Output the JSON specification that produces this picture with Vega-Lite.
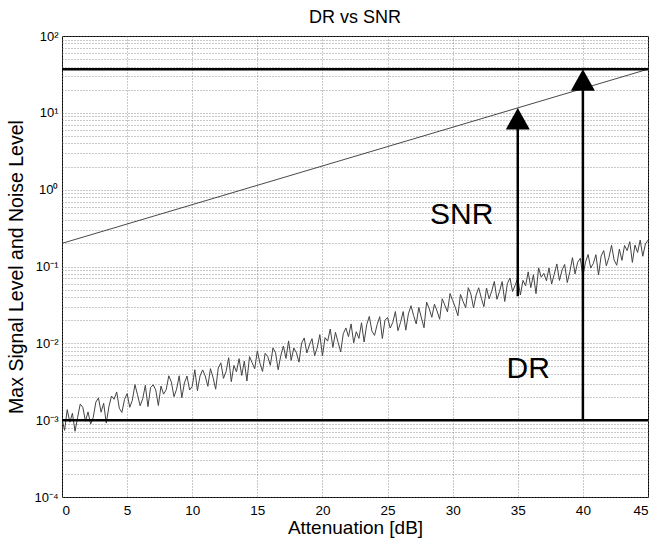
{
  "$schema": "https://vega.github.io/schema/vega-lite/v6.json",
  "width": 586,
  "height": 461,
  "autosize": "none",
  "padding": {"left": 62, "top": 36, "right": 6, "bottom": 42},
  "background": "white",
  "title": {"text": "DR vs SNR", "font": "Liberation Sans", "fontSize": 18, "fontWeight": "normal", "color": "black", "offset": 3, "anchor": "middle"},
  "config": {
    "view": {"stroke": "black", "strokeWidth": 1},
    "axis": {"labelFont": "Liberation Sans", "titleFont": "Liberation Sans", "labelColor": "black", "titleColor": "black", "titleFontWeight": "normal", "domain": false, "ticks": false, "gridColor": "#777", "gridDash": [1, 2], "gridWidth": 0.8, "gridOpacity": 1}
  },
  "datasets": {
    "noise": [
      {"x":0,"y":0.00105},{"x":0.2,"y":0.000737},{"x":0.4,"y":0.00137},{"x":0.6,"y":0.000943},{"x":0.8,"y":0.00123},
      {"x":1,"y":0.000717},{"x":1.2,"y":0.00109},{"x":1.4,"y":0.00162},{"x":1.6,"y":0.00147},{"x":1.8,"y":0.00097},
      {"x":2,"y":0.00128},{"x":2.2,"y":0.000889},{"x":2.4,"y":0.00109},{"x":2.6,"y":0.00172},{"x":2.8,"y":0.00195},
      {"x":3,"y":0.00127},{"x":3.2,"y":0.00166},{"x":3.4,"y":0.000917},{"x":3.6,"y":0.00149},{"x":3.8,"y":0.00206},
      {"x":4,"y":0.00187},{"x":4.2,"y":0.00233},{"x":4.4,"y":0.00143},{"x":4.6,"y":0.00126},{"x":4.8,"y":0.00186},
      {"x":5,"y":0.00222},{"x":5.2,"y":0.00147},{"x":5.4,"y":0.00181},{"x":5.6,"y":0.0029},{"x":5.8,"y":0.00214},
      {"x":6,"y":0.00154},{"x":6.2,"y":0.0019},{"x":6.4,"y":0.00284},{"x":6.6,"y":0.0015},{"x":6.8,"y":0.00265},
      {"x":7,"y":0.00289},{"x":7.2,"y":0.00247},{"x":7.4,"y":0.00155},{"x":7.6,"y":0.00278},{"x":7.8,"y":0.00218},
      {"x":8,"y":0.00249},{"x":8.2,"y":0.00378},{"x":8.4,"y":0.00313},{"x":8.6,"y":0.00202},{"x":8.8,"y":0.00253},
      {"x":9,"y":0.00378},{"x":9.2,"y":0.00196},{"x":9.4,"y":0.00304},{"x":9.6,"y":0.00375},{"x":9.8,"y":0.00247},
      {"x":10,"y":0.00275},{"x":10.2,"y":0.00453},{"x":10.4,"y":0.00242},{"x":10.6,"y":0.00376},{"x":10.8,"y":0.00451},
      {"x":11,"y":0.00376},{"x":11.2,"y":0.00276},{"x":11.4,"y":0.00468},{"x":11.6,"y":0.00358},{"x":11.8,"y":0.00253},
      {"x":12,"y":0.00478},{"x":12.2,"y":0.00558},{"x":12.4,"y":0.0035},{"x":12.6,"y":0.00431},{"x":12.8,"y":0.0065},
      {"x":13,"y":0.00317},{"x":13.2,"y":0.00516},{"x":13.4,"y":0.00426},{"x":13.6,"y":0.00632},{"x":13.8,"y":0.00382},
      {"x":14,"y":0.00586},{"x":14.2,"y":0.00323},{"x":14.4,"y":0.00672},{"x":14.6,"y":0.00559},{"x":14.8,"y":0.00467},
      {"x":15,"y":0.00799},{"x":15.2,"y":0.00552},{"x":15.4,"y":0.0043},{"x":15.6,"y":0.00741},{"x":15.8,"y":0.00672},
      {"x":16,"y":0.00517},{"x":16.2,"y":0.00871},{"x":16.4,"y":0.00753},{"x":16.6,"y":0.00453},{"x":16.8,"y":0.00692},
      {"x":17,"y":0.0092},{"x":17.2,"y":0.00637},{"x":17.4,"y":0.01075},{"x":17.6,"y":0.006},{"x":17.8,"y":0.00869},
      {"x":18,"y":0.00755},{"x":18.2,"y":0.00569},{"x":18.4,"y":0.01006},{"x":18.6,"y":0.01175},{"x":18.8,"y":0.00749},
      {"x":19,"y":0.00954},{"x":19.2,"y":0.01149},{"x":19.4,"y":0.00691},{"x":19.6,"y":0.00879},{"x":19.8,"y":0.01299},
      {"x":20,"y":0.0069},{"x":20.2,"y":0.01187},{"x":20.4,"y":0.01068},{"x":20.6,"y":0.01533},{"x":20.8,"y":0.00888},
      {"x":21,"y":0.01391},{"x":21.2,"y":0.01033},{"x":21.4,"y":0.00775},{"x":21.6,"y":0.01335},{"x":21.8,"y":0.01586},
      {"x":22,"y":0.01221},{"x":22.2,"y":0.0179},{"x":22.4,"y":0.01015},{"x":22.6,"y":0.01417},{"x":22.8,"y":0.01159},
      {"x":23,"y":0.0185},{"x":23.2,"y":0.0104},{"x":23.4,"y":0.0176},{"x":23.6,"y":0.02241},{"x":23.8,"y":0.0144},
      {"x":24,"y":0.01268},{"x":24.2,"y":0.01751},{"x":24.4,"y":0.02224},{"x":24.6,"y":0.01155},{"x":24.8,"y":0.01998},
      {"x":25,"y":0.0217},{"x":25.2,"y":0.01583},{"x":25.4,"y":0.01862},{"x":25.6,"y":0.02593},{"x":25.8,"y":0.01462},
      {"x":26,"y":0.01876},{"x":26.2,"y":0.02592},{"x":26.4,"y":0.01483},{"x":26.6,"y":0.02417},{"x":26.8,"y":0.03083},
      {"x":27,"y":0.02306},{"x":27.2,"y":0.01786},{"x":27.4,"y":0.0293},{"x":27.6,"y":0.02136},{"x":27.8,"y":0.01595},
      {"x":28,"y":0.03441},{"x":28.2,"y":0.02827},{"x":28.4,"y":0.02183},{"x":28.6,"y":0.03231},{"x":28.8,"y":0.02643},
      {"x":29,"y":0.02057},{"x":29.2,"y":0.03806},{"x":29.4,"y":0.03128},{"x":29.6,"y":0.02568},{"x":29.8,"y":0.04448},
      {"x":30,"y":0.03605},{"x":30.2,"y":0.02944},{"x":30.4,"y":0.02285},{"x":30.6,"y":0.04339},{"x":30.8,"y":0.03501},
      {"x":31,"y":0.02909},{"x":31.2,"y":0.05299},{"x":31.4,"y":0.04384},{"x":31.6,"y":0.02891},{"x":31.8,"y":0.04239},
      {"x":32,"y":0.05295},{"x":32.2,"y":0.03869},{"x":32.4,"y":0.03001},{"x":32.6,"y":0.05249},{"x":32.8,"y":0.03796},
      {"x":33,"y":0.0478},{"x":33.2,"y":0.06397},{"x":33.4,"y":0.03741},{"x":33.6,"y":0.04741},{"x":33.8,"y":0.06364},
      {"x":34,"y":0.03508},{"x":34.2,"y":0.05999},{"x":34.4,"y":0.07084},{"x":34.6,"y":0.04728},{"x":34.8,"y":0.05713},
      {"x":35,"y":0.07086},{"x":35.2,"y":0.04257},{"x":35.4,"y":0.06594},{"x":35.6,"y":0.05606},{"x":35.8,"y":0.08505},
      {"x":36,"y":0.053},{"x":36.2,"y":0.0781},{"x":36.4,"y":0.04426},{"x":36.6,"y":0.09605},{"x":36.8,"y":0.07261},
      {"x":37,"y":0.08141},{"x":37.2,"y":0.06518},{"x":37.4,"y":0.09562},{"x":37.6,"y":0.0592},{"x":37.8,"y":0.07914},
      {"x":38,"y":0.108},{"x":38.2,"y":0.06582},{"x":38.4,"y":0.08982},{"x":38.6,"y":0.1064},{"x":38.8,"y":0.06181},
      {"x":39,"y":0.08556},{"x":39.2,"y":0.1304},{"x":39.4,"y":0.08025},{"x":39.6,"y":0.1137},{"x":39.8,"y":0.128},
      {"x":40,"y":0.075},{"x":40.2,"y":0.1136},{"x":40.4,"y":0.1434},{"x":40.6,"y":0.0954},{"x":40.8,"y":0.1096},
      {"x":41,"y":0.1425},{"x":41.2,"y":0.07805},{"x":41.4,"y":0.1363},{"x":41.6,"y":0.1612},{"x":41.8,"y":0.1021},
      {"x":42,"y":0.1309},{"x":42.2,"y":0.1893},{"x":42.4,"y":0.1213},{"x":42.6,"y":0.1039},{"x":42.8,"y":0.1683},
      {"x":43,"y":0.1201},{"x":43.2,"y":0.1879},{"x":43.4,"y":0.1612},{"x":43.6,"y":0.2105},{"x":43.8,"y":0.113},
      {"x":44,"y":0.1902},{"x":44.2,"y":0.1524},{"x":44.4,"y":0.2207},{"x":44.6,"y":0.1359},{"x":44.8,"y":0.1963},
      {"x":45,"y":0.2205}
    ],
    "signal": [{"x": 0, "y": 0.2}, {"x": 45, "y": 37}],
    "levels": [{"level": "max", "y": 37}, {"level": "noise floor", "y": 0.001}],
    "arrows": [
      {"name": "SNR", "x": 35, "from": 0.041, "to": 8, "tip": 11.6},
      {"name": "DR", "x": 40, "from": 0.001, "to": 26, "tip": 37}
    ],
    "labels": [
      {"text": "SNR", "x": 30.7, "y": 0.47},
      {"text": "DR", "x": 35.8, "y": 0.0046}
    ]
  },
  "layer": [
    {
      "data": {"name": "noise"},
      "mark": {"type": "line", "stroke": "#444", "strokeWidth": 1, "clip": true},
      "encoding": {
        "x": {"field": "x", "type": "quantitative", "scale": {"domain": [0, 45], "nice": false},
          "axis": {"values": [0,5,10,15,20,25,30,35,40,45], "title": "Attenuation [dB]", "titleFontSize": 19, "labelFontSize": 13.5, "labelPadding": 6, "titlePadding": 2, "grid": true}},
        "y": {"field": "y", "type": "quantitative", "scale": {"type": "log", "domain": [0.0001, 100], "nice": false},
          "axis": {"values": [0.0001,0.0002,0.0003,0.0004,0.0005,0.0006,0.0007,0.0008,0.0009,0.001,0.002,0.003,0.004,0.005,0.006,0.007,0.008,0.009,0.01,0.02,0.03,0.04,0.05,0.06,0.07,0.08,0.09,0.1,0.2,0.3,0.4,0.5,0.6,0.7,0.8,0.9,1,2,3,4,5,6,7,8,9,10,20,30,40,50,60,70,80,90,100],
            "labelExpr": "abs(log(datum.value)/LN10 - round(log(datum.value)/LN10)) < 0.001 ? '10' + ['⁻⁴','⁻³','⁻²','⁻¹','⁰','¹','²'][round(log(datum.value)/LN10) + 4] : ''",
            "title": "Max Signal Level and Noise Level", "titleFontSize": 19.5, "labelFontSize": 13, "labelPadding": 4, "titlePadding": 7, "grid": true, "labelOverlap": false}}
      }
    },
    {
      "data": {"name": "signal"},
      "mark": {"type": "line", "stroke": "#333", "strokeWidth": 0.9},
      "encoding": {"x": {"field": "x", "type": "quantitative"}, "y": {"field": "y", "type": "quantitative"}}
    },
    {
      "data": {"name": "levels"},
      "mark": {"type": "rule", "stroke": "black", "strokeWidth": 2.5},
      "encoding": {"y": {"field": "y", "type": "quantitative"}}
    },
    {
      "data": {"name": "arrows"},
      "mark": {"type": "rule", "stroke": "black", "strokeWidth": 2.5},
      "encoding": {"x": {"field": "x", "type": "quantitative"}, "y": {"field": "from", "type": "quantitative"}, "y2": {"field": "to"}}
    },
    {
      "data": {"name": "arrows"},
      "mark": {"type": "point", "shape": "M0,0L1,1.8L-1,1.8Z", "filled": true, "fill": "black", "stroke": "black", "strokeWidth": 0, "opacity": 1, "size": 576},
      "encoding": {"x": {"field": "x", "type": "quantitative"}, "y": {"field": "tip", "type": "quantitative"}}
    },
    {
      "data": {"name": "labels"},
      "mark": {"type": "text", "font": "Liberation Sans", "fontSize": 30, "color": "black", "align": "center", "baseline": "middle"},
      "encoding": {"x": {"field": "x", "type": "quantitative"}, "y": {"field": "y", "type": "quantitative"}, "text": {"field": "text"}}
    }
  ]
}
